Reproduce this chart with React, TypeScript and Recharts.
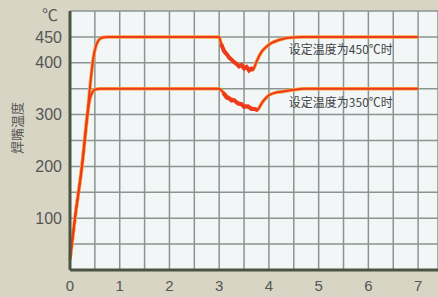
import { CartesianGrid, Label, Line, LineChart, ReferenceDot, XAxis, YAxis } from 'recharts'

// time (s) on the x axis, soldering tip temperature (°C) on the y axis
const xTicks = [0, 0.5, 1, 1.5, 2, 2.5, 3, 3.5, 4, 4.5, 5, 5.5, 6, 6.5, 7]
const yTicks = [0, 50, 100, 150, 200, 250, 300, 350, 400, 450, 500]
const yLabels = [100, 200, 300, 400, 450]

// set to 450°C
const highT = [0, 0.1, 0.24, 0.35, 0.42, 0.47, 0.52, 0.58, 0.65, 0.75, 3.0, 3.03, 3.1, 3.17, 3.25, 3.37, 3.45, 3.55, 3.62, 3.67, 3.71, 3.75, 3.85, 3.95, 4.05, 4.2, 4.31, 4.5, 4.65, 7.0]
const highV = [20, 100, 200, 300, 370, 410, 432, 444, 449, 450, 450, 440, 424, 414, 406, 397, 394, 391, 388, 386, 392, 402, 421, 431, 438, 444, 447, 449, 450, 450]

// set to 350°C
const lowT = [0, 0.1, 0.24, 0.35, 0.4, 0.45, 0.52, 0.6, 3.0, 3.07, 3.15, 3.25, 3.38, 3.5, 3.6, 3.7, 3.77, 3.82, 3.87, 3.94, 4.01, 4.12, 4.25, 4.5, 4.7, 7.0]
const lowV = [20, 100, 200, 300, 330, 343, 349, 350, 350, 344, 336, 330, 323, 318, 314, 311, 309, 316, 324, 332, 338, 342, 344, 348, 350, 350]

// jagged band in the dips
const highDipT = [3.04, 3.1, 3.15, 3.2, 3.25, 3.3, 3.35, 3.4, 3.45, 3.5, 3.55, 3.6, 3.65, 3.7]
const highDipV = [436, 422, 417, 410, 406, 401, 398, 393, 396, 389, 392, 385, 389, 387]
const lowDipT = [3.08, 3.15, 3.2, 3.25, 3.3, 3.38, 3.45, 3.5, 3.58, 3.65, 3.72, 3.78]
const lowDipV = [342, 333, 331, 327, 328, 321, 320, 315, 316, 311, 311, 308]

const highData = highT.map((t, i) => ({ t, v: highV[i] }))
const lowData = lowT.map((t, i) => ({ t, v: lowV[i] }))
const highDip = highDipT.map((t, i) => ({ t, v: highDipV[i] }))
const lowDip = lowDipT.map((t, i) => ({ t, v: lowDipV[i] }))

const font = '"Liberation Sans", "Noto Sans CJK SC", sans-serif'
const cjk = '"Noto Sans CJK SC", sans-serif'
const red = '#ee3a1c'
const orange = '#f7a640'
const frame = '#4b5443'

function AxisTitle() {
    return (
        <g>
            <text x={50} y={21} textAnchor="middle" fontSize={16} fill="#555" fontFamily={cjk}>℃</text>
            <text x={16} y={128} textAnchor="middle" dominantBaseline="central" fontSize={13} fill="#555"
                fontFamily={cjk} transform="rotate(-90 16 128)">焊嘴温度</text>
        </g>
    )
}

export default function App() {
    return (
        <div style={{ position: 'fixed', left: 0, top: 0, width: 438, height: 297, background: '#d8d5c5' }}>
            <LineChart width={438} height={297} data={highData} margin={{ top: 11, right: 0, bottom: 0, left: 0 }}>
                <CartesianGrid stroke="#8a9591" strokeWidth={1.5} fill="#f2f6f7" fillOpacity={1} />
                <XAxis
                    type="number"
                    dataKey="t"
                    domain={[0, 7.4]}
                    ticks={xTicks}
                    interval={0}
                    height={27}
                    tickLine={false}
                    tickSize={0}
                    tickMargin={10}
                    axisLine={{ stroke: frame, strokeWidth: 3 }}
                    tick={{ fill: '#555', fontSize: 15, fontFamily: font }}
                    tickFormatter={(v) => (Number.isInteger(v) ? String(v) : '')}
                />
                <YAxis
                    type="number"
                    domain={[0, 500]}
                    ticks={yTicks}
                    interval={0}
                    width={70}
                    tickLine={false}
                    tickSize={0}
                    tickMargin={8}
                    axisLine={{ stroke: frame, strokeWidth: 3 }}
                    tick={{ fill: '#555', fontSize: 16, fontFamily: font }}
                    tickFormatter={(v) => (yLabels.includes(v) ? String(v) : '')}
                >
                    <Label content={() => <AxisTitle />} />
                </YAxis>
                <Line data={highData} dataKey="v" type="monotone" stroke={orange} strokeWidth={3.5} dot={false} isAnimationActive={false} />
                <Line data={lowData} dataKey="v" type="monotone" stroke={orange} strokeWidth={3.5} dot={false} isAnimationActive={false} />
                <Line data={highData} dataKey="v" type="monotone" stroke={red} strokeWidth={2} dot={false} isAnimationActive={false} />
                <Line data={lowData} dataKey="v" type="monotone" stroke={red} strokeWidth={2} dot={false} isAnimationActive={false} />
                <Line data={highDip} dataKey="v" type="linear" stroke={red} strokeWidth={4} dot={false} isAnimationActive={false} />
                <Line data={lowDip} dataKey="v" type="linear" stroke={red} strokeWidth={4} dot={false} isAnimationActive={false} />
                <ReferenceDot x={4.3} y={426} r={0} stroke="none" fill="none"
                    label={{ value: '设定温度为450℃时', position: 'right', fill: '#444', fontSize: 12, fontFamily: cjk }} />
                <ReferenceDot x={4.3} y={323} r={0} stroke="none" fill="none"
                    label={{ value: '设定温度为350℃时', position: 'right', fill: '#444', fontSize: 12, fontFamily: cjk }} />
            </LineChart>
        </div>
    )
}
